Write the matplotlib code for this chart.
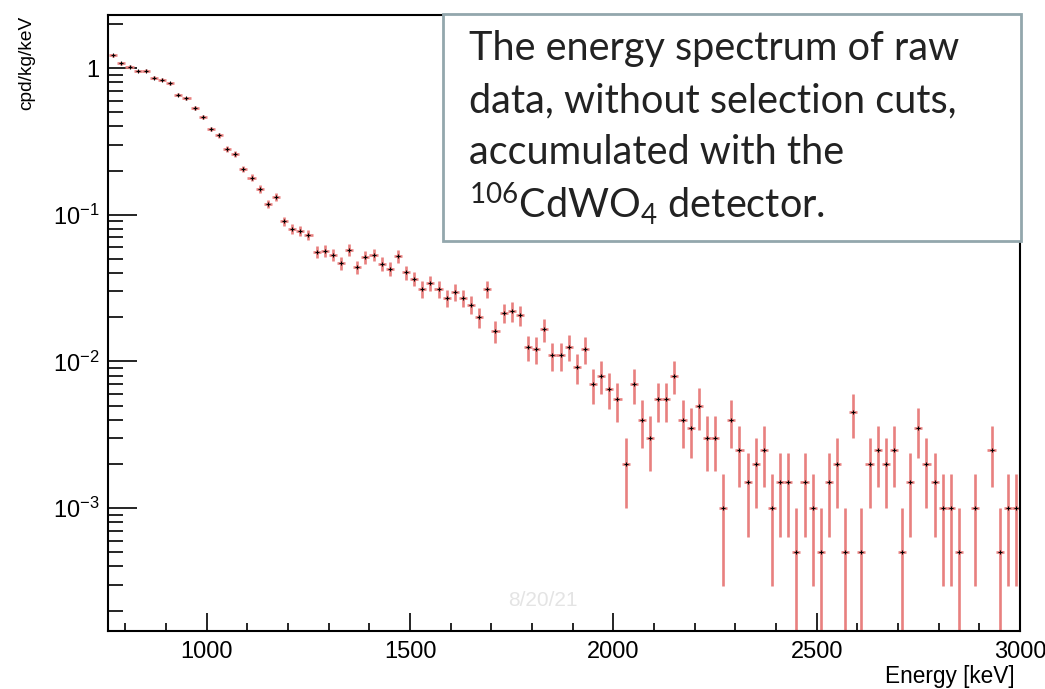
import matplotlib
matplotlib.use('Agg')
import matplotlib.pyplot as plt
from matplotlib.patches import Rectangle
from matplotlib.ticker import FixedLocator, LogLocator, NullFormatter
import numpy as np

# 20 keV bins from 760 to 3000 keV
bin_width = 20
energy = np.arange(770, 3000, bin_width)

# rate in cpd/kg/keV (nan = empty bin)
rate = [
    1.22, 1.08, 1.02, 0.955, 0.96, 0.86, 0.83, 0.787, 0.66, 0.622,
    0.532, 0.462, 0.385, 0.347, 0.28, 0.259, 0.206, 0.179, 0.150, 0.119,
    0.132, 0.090, 0.080, 0.078, 0.073, 0.056, 0.057, 0.0534, 0.0469, 0.0578,
    0.044, 0.0512, 0.0534, 0.0464, 0.0427, 0.052, 0.0405, 0.0367, 0.0312, 0.0343,
    0.0312, 0.0271, 0.0296, 0.0271, 0.0244, 0.0201, 0.0312, 0.0161, 0.0214, 0.022,
    0.0206, 0.0125, 0.0121, 0.0165, 0.011, 0.011, 0.0126, 0.0091, 0.0121, 0.0070,
    0.0080, 0.0065, 0.0055, 0.0020, 0.0070, 0.0040, 0.0030, 0.0055, 0.0055, 0.0080,
    0.0040, 0.0035, 0.0050, 0.0030, 0.0030, 0.0010, 0.0040, 0.0025, 0.0015, 0.0020,
    0.0025, 0.0010, 0.0015, 0.0015, 0.0005, 0.0015, 0.0010, 0.0005, 0.0015, 0.0020,
    0.0005, 0.0045, 0.0005, 0.0020, 0.0025, 0.0020, 0.0025, 0.0005, 0.0015, 0.0035,
    0.0020, 0.0015, 0.0010, 0.0010, 0.0005, np.nan, 0.0010, np.nan, 0.0025, 0.0005,
    0.0010, 0.0010,
]
# one count corresponds to this rate
one_count = 5e-4

y_ticks = [1e-3, 1e-2, 1e-1, 1]
y_tick_labels = ['$10^{-3}$', '$10^{-2}$', '$10^{-1}$', '1']

box_lines = [
    'The energy spectrum of raw',
    'data, without selection cuts,',
    'accumulated with the',
    '$^{106}$CdWO$_4$ detector.',
]


def main():
    plt.rcParams['font.family'] = ['Liberation Sans', 'DejaVu Sans']
    plt.rcParams['mathtext.default'] = 'regular'

    W, H = 1045, 689
    fig = plt.figure(figsize=(W / 100, H / 100), dpi=100)
    ax = fig.add_axes([108 / W, 1 - 631 / H, (1020 - 108) / W, (631 - 15) / H])

    r = np.array(rate, dtype=float)
    err = np.sqrt(r * one_count)
    lo = np.minimum(err, r * 0.9999)

    ax.errorbar(energy, r, xerr=bin_width / 2, yerr=[lo, err], fmt='none',
                ecolor='#e8807f', elinewidth=1.9, capsize=0, zorder=2)
    ax.plot(energy, r, '+', color='black', ms=3, mew=0.8, zorder=3)

    ax.set_yscale('log')
    ax.set_xlim(757, 3000)
    ax.set_ylim(1.45e-4, 2.3)

    ax.xaxis.set_major_locator(FixedLocator([1000, 1500, 2000, 2500, 3000]))
    ax.xaxis.set_minor_locator(FixedLocator(np.arange(800, 3000, 100)))
    ax.yaxis.set_major_locator(FixedLocator(y_ticks))
    ax.set_yticklabels(y_tick_labels)
    ax.yaxis.set_minor_locator(LogLocator(base=10, subs=np.arange(2, 10)))
    ax.yaxis.set_minor_formatter(NullFormatter())

    ax.tick_params(axis='both', which='both', direction='in', top=False, right=False,
                   labelsize=17, width=1.2)
    ax.tick_params(axis='x', which='major', length=13, pad=7)
    ax.tick_params(axis='x', which='minor', length=6)
    ax.tick_params(axis='y', which='major', length=21, pad=6)
    ax.tick_params(axis='y', which='minor', length=11)
    for s in ax.spines.values():
        s.set_linewidth(1.5)

    fig.text(27 / W, 1 - 16 / H, 'cpd/kg/keV', rotation=90, ha='center', va='top', fontsize=13.8)
    fig.text(1015 / W, 1 - 677 / H, 'Energy [keV]', ha='right', va='center', fontsize=16.3)

    # faint date watermark from the slide
    fig.text(543 / W, 1 - 600 / H, '8/20/21', ha='center', va='center', fontsize=15, color='#e4e4e4')

    # annotation box
    fig.patches.append(Rectangle((443 / W, 1 - 241 / H), (1021 - 443) / W, (241 - 14) / H,
                                 transform=fig.transFigure, facecolor='white',
                                 edgecolor='#93a7ad', linewidth=2, zorder=5))
    baselines = [60, 112, 164, 218]
    for txt, yb in zip(box_lines, baselines):
        fig.text(469 / W, 1 - yb / H, txt, ha='left', va='baseline', fontsize=28.5,
                 family=['Lato', 'DejaVu Sans'], color='#222222', zorder=6)

    fig.savefig('out.png', dpi=100)


if __name__ == '__main__':
    main()
